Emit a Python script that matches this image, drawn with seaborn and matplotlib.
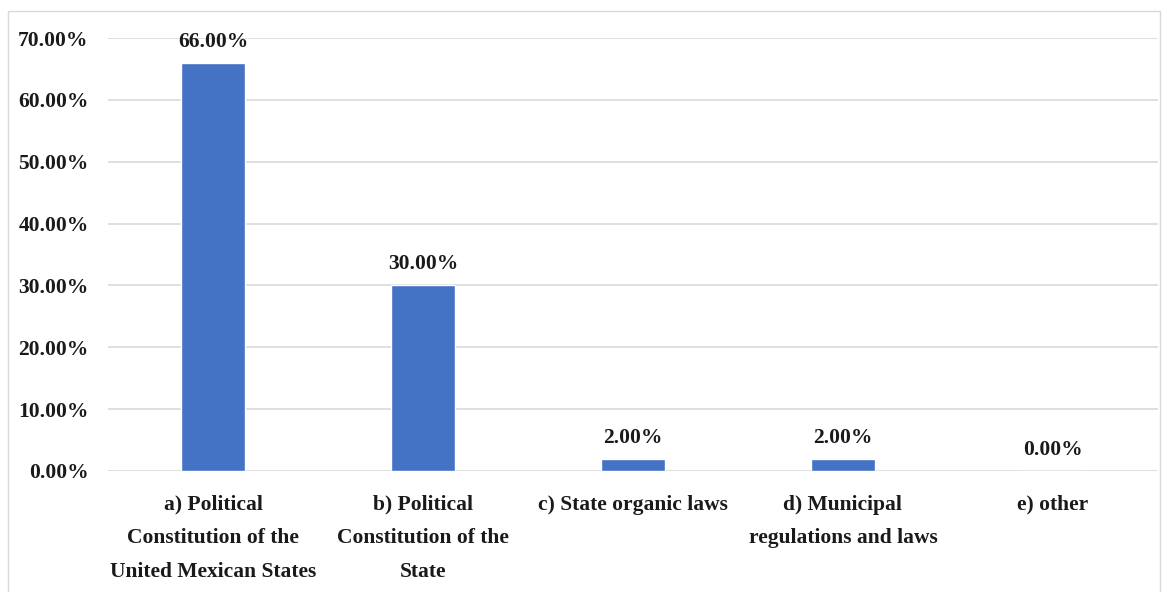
import matplotlib
matplotlib.use("Agg")
import matplotlib.pyplot as plt
from matplotlib.patches import Rectangle
import seaborn as sns
import pandas as pd

categories = [
    "a) Political\nConstitution of the\nUnited Mexican States",
    "b) Political\nConstitution of the\nState",
    "c) State organic laws",
    "d) Municipal\nregulations and laws",
    "e) other",
]
shares = [0.66, 0.30, 0.02, 0.02, 0.00]
y_ticks = [0.0, 0.1, 0.2, 0.3, 0.4, 0.5, 0.6, 0.7]

sns.set_theme(style="white")
plt.rcParams["font.family"] = ["Liberation Serif", "DejaVu Serif"]
plt.rcParams["font.weight"] = "bold"

df = pd.DataFrame({"category": categories, "share": shares})

fig = plt.figure(figsize=(11.66, 5.92), dpi=100)
ax = fig.add_axes([0.0926, 0.2044, 0.9004, 0.7314])

sns.barplot(data=df, x="category", y="share", color="#4472C4",
            width=0.305, saturation=1, ax=ax, zorder=3)

ax.set_ylim(0, 0.7)
ax.set_yticks(y_ticks)
ax.set_yticklabels([f"{v * 100:.2f}%" for v in y_ticks], fontsize=15.5,
                   fontweight="bold", color="#1a1a1a")
ax.set_xticklabels(categories, fontsize=15.5, fontweight="bold",
                   color="#1a1a1a", linespacing=1.9)
ax.tick_params(axis="y", length=0, pad=14)
ax.tick_params(axis="x", length=0, pad=17)
ax.set_xlabel("")
ax.set_ylabel("")
ax.set_xlim(-0.5, 4.5)

ax.grid(axis="y", color="#D9D9D9", linewidth=1.2, zorder=0)
ax.set_axisbelow(True)
for s in ax.spines.values():
    s.set_visible(False)

for i, v in enumerate(shares):
    ax.annotate(f"{v * 100:.2f}%", xy=(i, v), xytext=(0, 8),
                textcoords="offset points", ha="center", va="bottom",
                fontsize=15.5, fontweight="bold", color="#1a1a1a")

fig.add_artist(Rectangle((8 / 1166, -0.05), 1152 / 1166, 1 - 11 / 592 + 0.05,
                         transform=fig.transFigure, fill=False,
                         edgecolor="#D9D9D9", linewidth=1.0))

fig.savefig("out.png", dpi=100)
